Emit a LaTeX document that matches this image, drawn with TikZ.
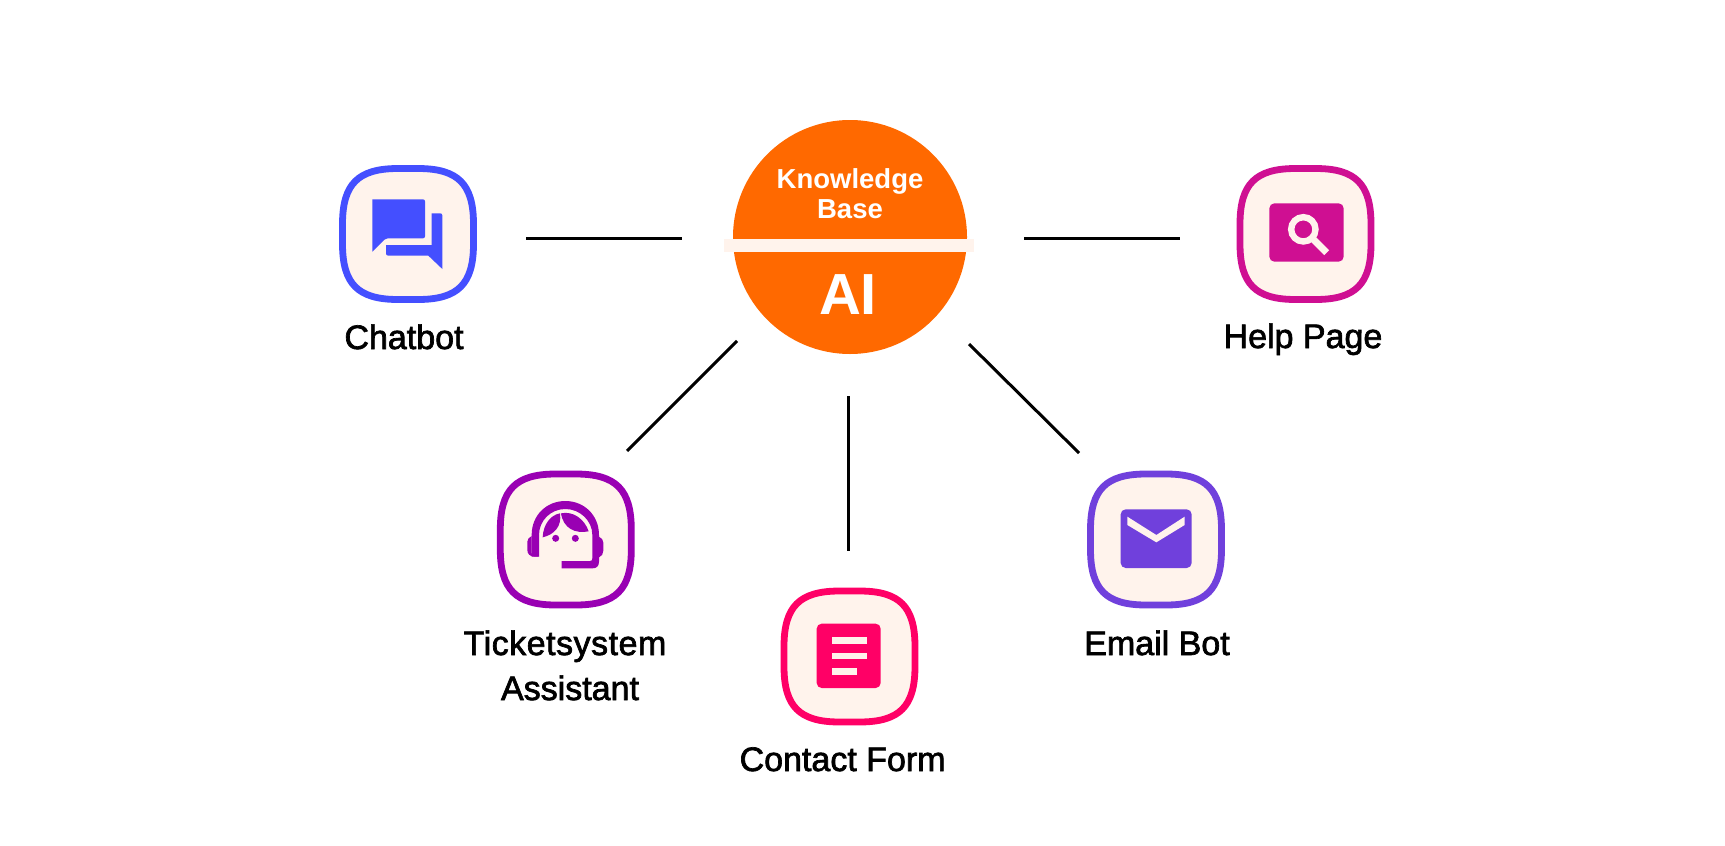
\documentclass[tikz,border=0pt]{standalone}
\usepackage{fontspec}
\setmainfont{Liberation Sans}
\newfontfamily\medfont[FakeBold=2]{Liberation Sans}
\newfontfamily\medwide[FakeBold=2,LetterSpace=1.5]{Liberation Sans}
\definecolor{cream}{HTML}{FFF3EC}
\definecolor{hubor}{HTML}{FF6900}
\definecolor{cblue}{HTML}{444FFF}
\definecolor{cpurple}{HTML}{9900B3}
\definecolor{cpink}{HTML}{FF0066}
\definecolor{cviolet}{HTML}{7040DC}
\definecolor{cmagenta}{HTML}{CF0F92}
\tikzset{
  x=1pt,y=-1pt,
  link/.style={draw=black,line width=3pt},
  lab/.style={font=\fontsize{34}{34}\selectfont\medfont,text=black,anchor=base,inner sep=0pt},
  hubtext/.style={font=\fontsize{27.5}{27.5}\selectfont\bfseries,text=white,anchor=base,inner sep=0pt},
  pics/squircle/.style={code={
    \draw[draw=#1,fill=cream,line width=6.8pt]
      (-10,-65.5) -- (10,-65.5) .. controls (50,-65.5) and (65.5,-50) .. (65.5,-10)
      -- (65.5,10) .. controls (65.5,50) and (50,65.5) .. (10,65.5)
      -- (-10,65.5) .. controls (-50,65.5) and (-65.5,50) .. (-65.5,10)
      -- (-65.5,-10) .. controls (-65.5,-50) and (-50,-65.5) .. (-10,-65.5) -- cycle;
  }},
  zoomed/.style={shift={(#1)},scale=1/3},
}
\begin{document}
\begin{tikzpicture}
\useasboundingbox (0,0) rectangle (1725,846);
\fill[white] (0,0) rectangle (1725,846);

% connector ends
\coordinate (cL1) at (526,238); \coordinate (cL2) at (682,238);
\coordinate (cR1) at (1024,238); \coordinate (cR2) at (1180,238);
\coordinate (dL1) at (737,341); \coordinate (dL2) at (627,451);
\coordinate (vT) at (848.5,396); \coordinate (vB) at (848.5,551);
\coordinate (dR1) at (969,344); \coordinate (dR2) at (1079,453);
\draw[link] (cL1) -- (cL2);
\draw[link] (cR1) -- (cR2);
\draw[link] (dL1) -- (dL2);
\draw[link] (vT) -- (vB);
\draw[link] (dR1) -- (dR2);

% hub
\node[circle,fill=hubor,minimum size=234pt,inner sep=0pt] (hub) at (850,237) {};
\fill[cream] (724,239) rectangle (974,252.3);
\node[hubtext] (kb1) at (850,188) {Knowledge};
\node[hubtext] (kb2) at (850,218) {Base};
\node[font=\fontsize{58}{58}\selectfont\bfseries,text=white,anchor=base,inner sep=0pt] (ai) at (848,314) {AI};

% squircles
\coordinate (chatbot) at (408,234);
\coordinate (ticket) at (565.8,539.5);
\coordinate (contact) at (849.5,656.5);
\coordinate (email) at (1156,539.5);
\coordinate (help) at (1305.5,234);
\pic at (chatbot) {squircle=cblue};
\pic at (ticket) {squircle=cpurple};
\pic at (contact) {squircle=cpink};
\pic at (email) {squircle=cviolet};
\pic at (help) {squircle=cmagenta};

% chatbot icon
\begin{scope}[zoomed={320,150}]
\fill[cblue,rounded corners=2pt] (157,148) -- (315,148) -- (315,265) -- (197,265) [sharp corners] -- (157,305) -- cycle;
\fill[cblue] (335,190) -- (357,190) [rounded corners=2pt] -- (367,190) [sharp corners] -- (367,357) -- (325,317) -- (205,317) .. controls (200,317) and (198,314) .. (198,310) -- (198,285) -- (335,285) -- cycle;
\end{scope}

% ticket icon
\begin{scope}[zoomed={480,460}]
\fill[cpurple]
  (155,290) -- (155,225) .. controls (155,165) and (200,123) .. (256,123)
  .. controls (312,123) and (357,165) .. (357,225)
  -- (357,305) .. controls (357,318) and (350,325) .. (338,325)
  -- (245,325) -- (245,303) -- (330,303) .. controls (335,303) and (337,300) .. (337,295)
  -- (337,225) .. controls (337,182) and (300,147) .. (256,147)
  .. controls (212,147) and (177,182) .. (177,225) -- (177,290) -- cycle;
\fill[cpurple] (155,228) .. controls (147,232) and (142,238) .. (142,245) -- (142,270) .. controls (142,282) and (150,290) .. (165,290) -- (177,290) -- (155,280) -- cycle;
\fill[cpurple] (357,230) .. controls (365,234) and (370,240) .. (370,248) -- (370,272) .. controls (370,282) and (365,289) .. (357,292) -- cycle;
\fill[cpurple] (240,160) .. controls (212,165) and (190,192) .. (188,232) .. controls (222,224) and (246,200) .. (240,160) -- cycle;
\fill[cpurple] (243,160) .. controls (280,152) and (314,178) .. (326,214) .. controls (285,222) and (250,205) .. (243,160) -- cycle;
\fill[cpurple] (227,235) circle (10.5);
\fill[cpurple] (286,235) circle (10.5);
\end{scope}

% contact icon
\begin{scope}[zoomed={770,580}]
\fill[cpink,rounded corners=5pt] (140,131) rectangle (332,324);
\fill[cream] (186,172) rectangle (292,192);
\fill[cream] (186,218) rectangle (292,238);
\fill[cream] (186,264) rectangle (262,284);
\end{scope}

% email icon
\begin{scope}[zoomed={1070,460}]
\fill[cviolet,rounded corners=5pt] (152,148) rectangle (365,324);
\fill[cream] (172,170) -- (172,195) -- (259,247) -- (344,195) -- (344,170) -- (259,225) -- cycle;
\end{scope}

% help icon
\begin{scope}[zoomed={1220,150}]
\fill[cmagenta,rounded corners=5pt] (148,160) rectangle (371,335);
\draw[cream,line width=6.4pt] (250,238) circle (36.5);
\draw[cream,line width=6.8pt] (280,268) -- (320,308);
\end{scope}

% labels
\node[lab] (l1) at (404,349) {Chatbot};
\node[lab] (l2) at (1303,348) {Help Page};
\node[lab,font=\fontsize{34}{34}\selectfont\medwide] (l3) at (565,655) {Ticketsystem};
\node[lab] (l4) at (570,700) {Assistant};
\node[lab] (l5) at (842.6,771) {Contact Form};
\node[lab] (l6) at (1157,655) {Email Bot};
\end{tikzpicture}
\end{document}
